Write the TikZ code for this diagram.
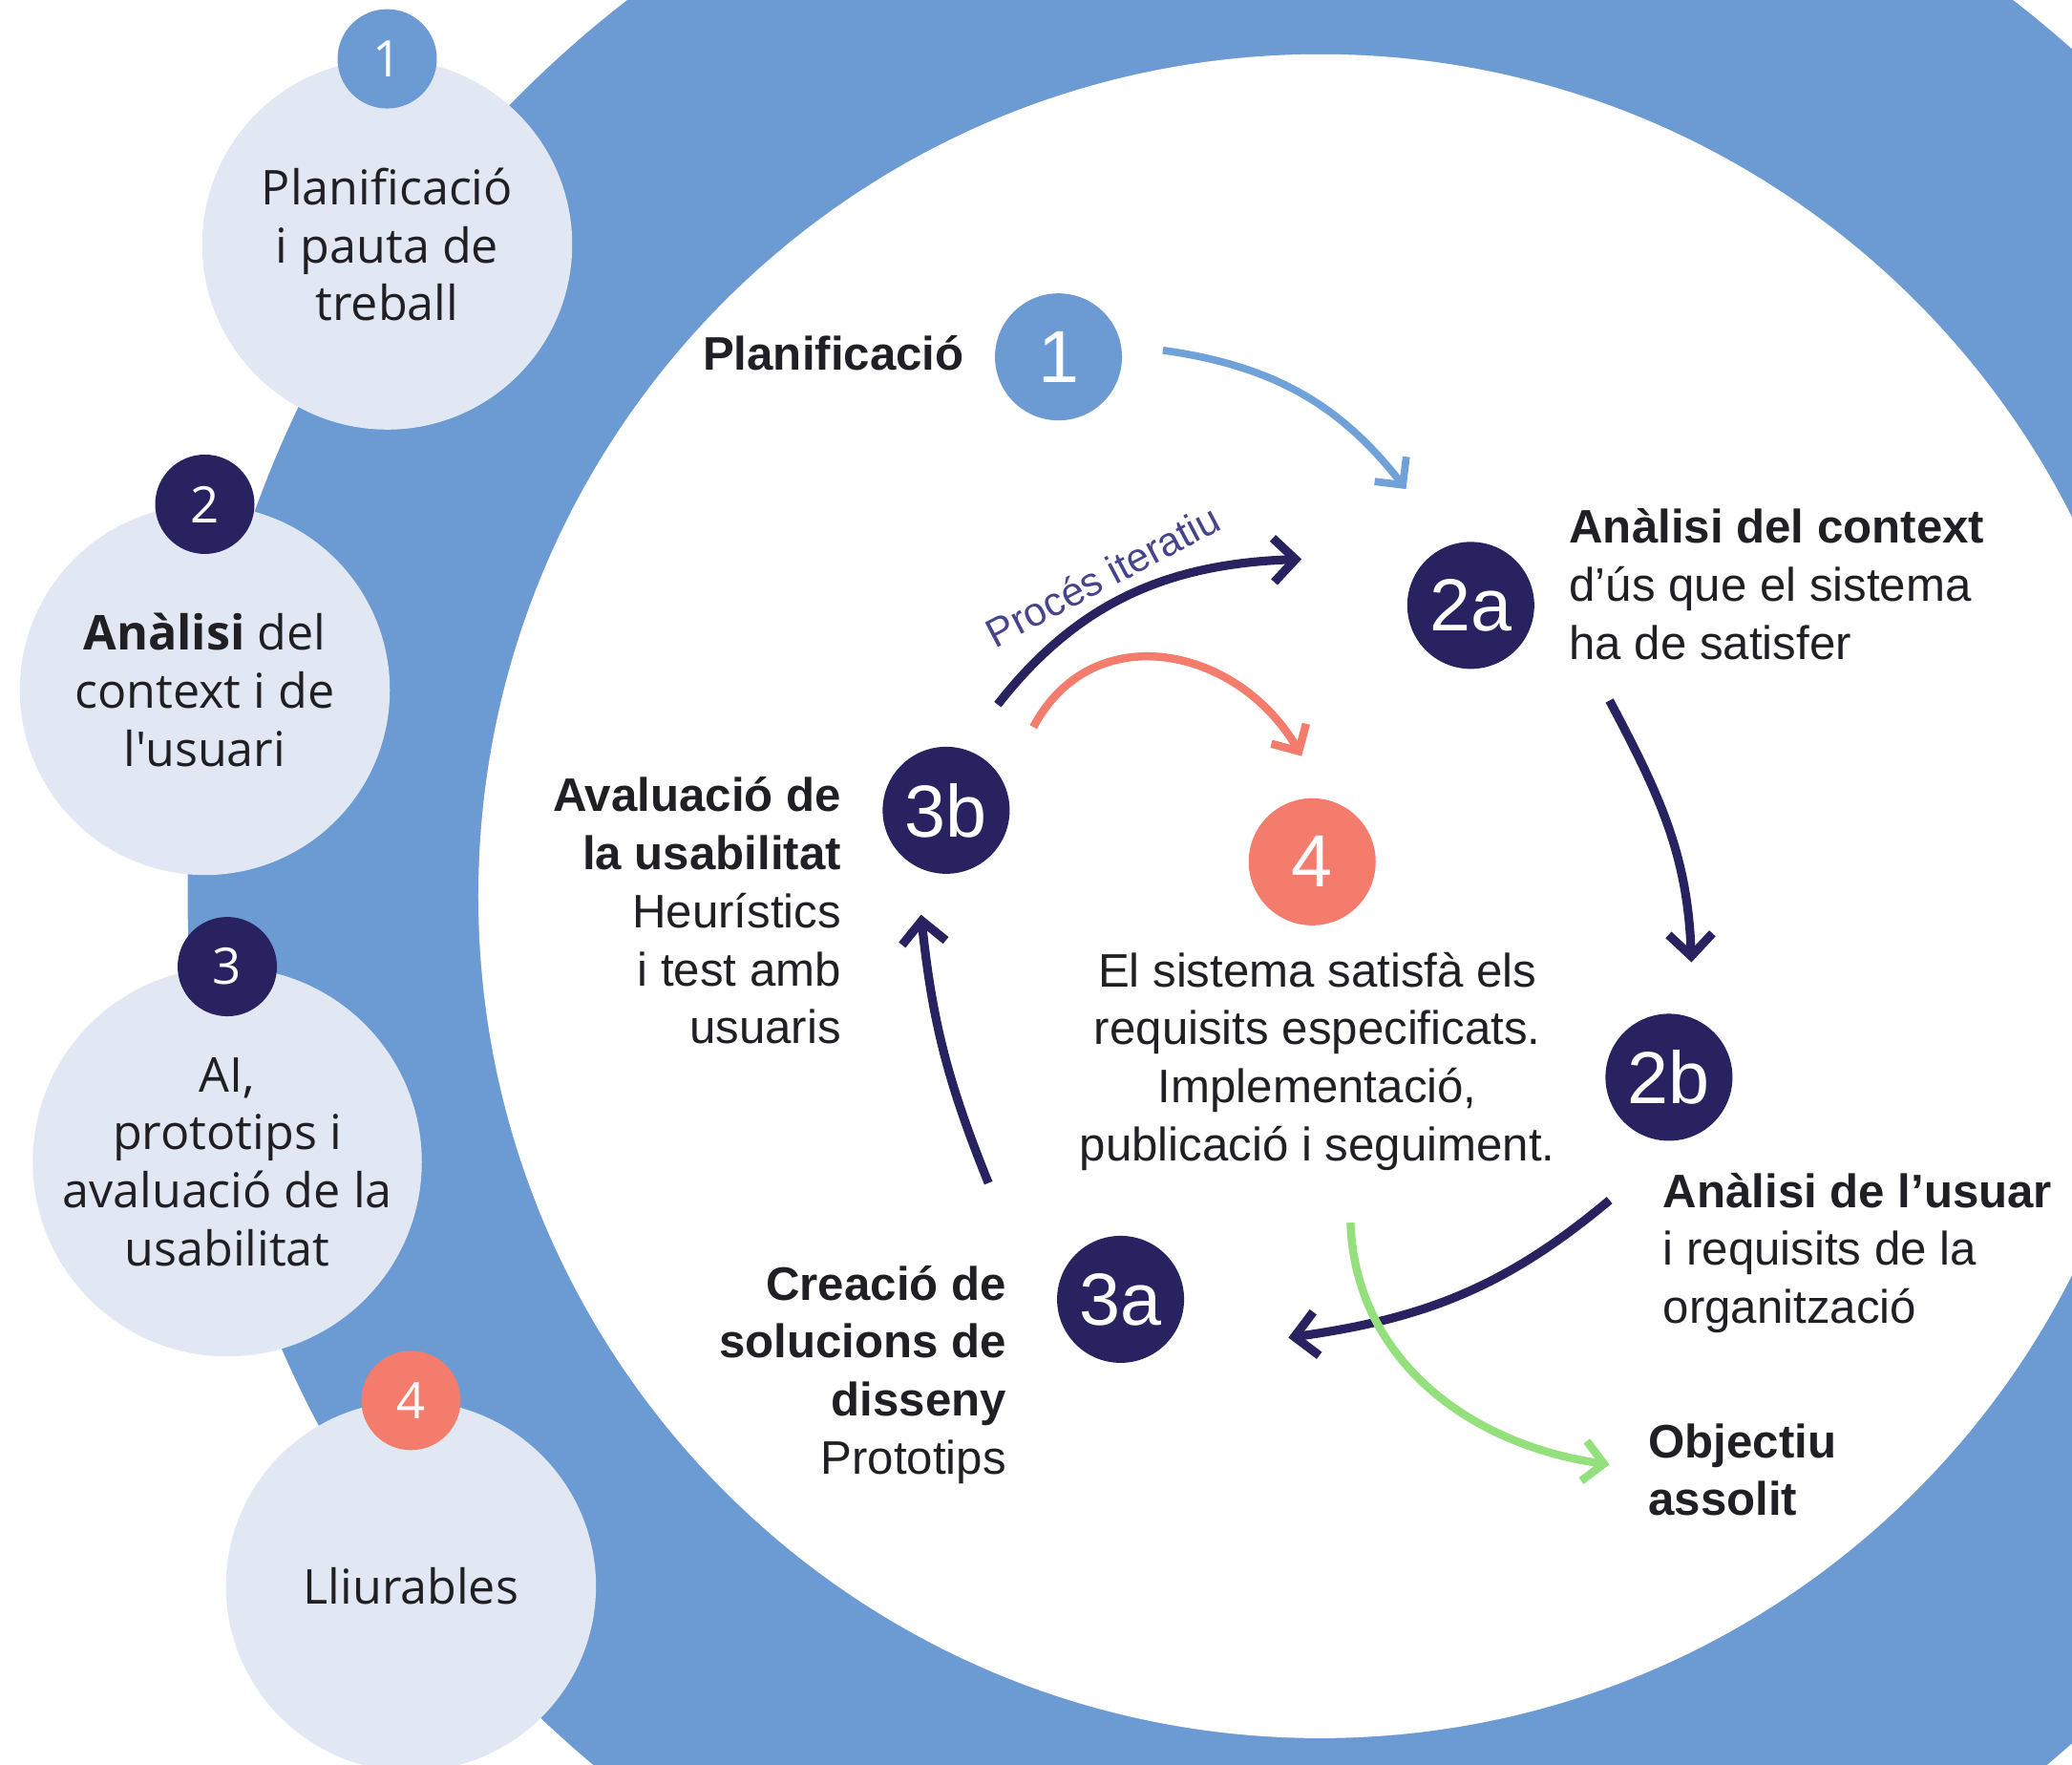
\documentclass[tikz,border=0pt]{standalone}
\usepackage{fontspec}
\setmainfont{Liberation Sans}
\newfontfamily\circfont[Ligatures=TeXOff]{Open Sans}
\usetikzlibrary{arrows.meta}
\definecolor{ringblue}{RGB}{108,155,211}
\definecolor{arrowblue}{RGB}{112,162,217}
\definecolor{lightcirc}{RGB}{225,232,244}
\definecolor{navy}{RGB}{40,35,96}
\definecolor{coral}{RGB}{244,124,108}
\definecolor{goalgreen}{RGB}{147,224,124}
\definecolor{textdark}{RGB}{32,32,36}
\definecolor{labelnavy}{RGB}{70,68,140}
\tikzset{
  phasecirc/.style={circle, fill=lightcirc, draw=none, minimum size=3.875cm, inner sep=0pt, align=center, text=textdark, font=\circfont\fontsize{14.3}{17.3}\selectfont},
  phasebadge/.style={circle, draw=none, minimum size=1.04cm, inner sep=0pt, text=white, font=\circfont\fontsize{15}{17}\selectfont},
  etapabadge/.style={circle, draw=none, minimum size=1.33cm, inner sep=0pt, text=white, font=\fontsize{22}{24}\selectfont},
  blocktext/.style={inner sep=0pt, text=textdark, font=\fontsize{14}{17.3}\selectfont},
  boldtext/.style={blocktext, font=\fontsize{14}{17.3}\selectfont\bfseries},
  looplabel/.style={inner sep=3pt, text=labelnavy, font=\fontsize{12}{14}\selectfont},
  navyarrow/.style={draw=navy, line width=2.6pt, -{Straight Barb[length=2.3mm,width=4.6mm]}},
  bluearrow/.style={draw=arrowblue, line width=2.2pt, -{Straight Barb[length=2.1mm,width=4.2mm]}},
  coralarrow/.style={draw=coral, line width=2.4pt, -{Straight Barb[length=2.1mm,width=4.2mm]}},
  greenarrow/.style={draw=goalgreen, line width=2.4pt, -{Straight Barb[length=2.1mm,width=4.2mm]}}
}
% phase on the left: name, x, y, colour, number, text
\newcommand{\fase}[6]{\node[phasecirc] (#1) at (#2,#3) {#6};
  \node[phasebadge, fill=#4] (#1n) at (#1.north) {#5};}
% stage badge in the cycle: name, x, y, colour, label
\newcommand{\etapa}[5]{\node[etapabadge, fill=#4] (#1) at (#2,#3) {#5};}

\begin{document}
\begin{tikzpicture}[x=0.01384cm, y=0.01384cm]
        \useasboundingbox (0,0) rectangle (1568,-1335);
        \clip (0,0) rectangle (1568,-1335);
        % ring
        \fill[ringblue] (999,-678) circle [radius=857];
        \fill[white] (999,-678) circle [radius=637];
        % phases
        \fase{f1}{293}{-185}{ringblue}{1}{Planificació\\i pauta de\\treball}
        \fase{f2}{155}{-522}{navy}{2}{\textbf{Anàlisi} del\\context i de\\l'usuari}
        \fase{f3}{172}{-879}{navy}{3}{AI,\\prototips i\\avaluació de la\\usabilitat}
        \fase{f4}{311}{-1200}{coral}{4}{Lliurables}
        % stages
        \etapa{e1}{801}{-270}{ringblue}{1}
        \etapa{e2a}{1113}{-458}{navy}{2a}
        \etapa{e2b}{1263}{-815}{navy}{2b}
        \etapa{e3a}{848}{-983}{navy}{3a}
        \etapa{e3b}{716}{-613}{navy}{3b}
        \etapa{e4}{993}{-652}{coral}{4}
        % labels for stages
        \node[boldtext, anchor=east] (t1) at (730,-267) {Planificació};
        \node[blocktext, anchor=west, align=left] (t2a) at (1187,-442) {\textbf{Anàlisi del context}\\d’ús que el sistema\\ha de satisfer};
        \node[blocktext, anchor=west, align=left] (t2b) at (1258,-948) {\textbf{Anàlisi de l’usuar}\\i requisits de la\\organització};
        \node[blocktext, anchor=east, align=right] (t3a) at (762,-1040) {\textbf{Creació de}\\\textbf{solucions de}\\\textbf{disseny}\\Prototips};
        \node[blocktext, anchor=east, align=right] (t3b) at (637,-689) {\textbf{Avaluació de}\\\textbf{la usabilitat}\\Heurístics\\i test amb\\usuaris};
        \node[blocktext, align=center] (t4) at (997,-803) {El sistema satisfà els\\requisits especificats.\\Implementació,\\publicació i seguiment.};
        \node[boldtext, anchor=west, align=left] (tobj) at (1247,-1112) {Objectiu\\assolit};
        % arrow ends
        \coordinate (a1s) at (880,-265);
        \coordinate (a1e) at (1064,-370);
        \coordinate (a2s) at (1218,-530);
        \coordinate (a2e) at (1280,-728);
        \coordinate (a3s) at (1218,-908);
        \coordinate (a3e) at (975,-1012);
        \coordinate (a4s) at (748,-895);
        \coordinate (a4e) at (697,-692);
        \coordinate (a5s) at (755,-533);
        \coordinate (a5e) at (985,-423);
        \coordinate (a6s) at (782,-550);
        \coordinate (a6e) at (985,-572);
        \coordinate (a7s) at (1022,-925);
        \coordinate (a7e) at (1218,-1108);
        % arrows
        \draw[bluearrow] (a1s) to[out=-8,in=128] (a1e);
        \draw[navyarrow] (a2s) to[out=-62,in=92] (a2e);
        \draw[navyarrow] (a3s) to[out=-140,in=8] (a3e);
        \draw[navyarrow] (a4s) to[out=112,in=-84] (a4e);
        \draw[navyarrow] (a5s) to[out=52,in=182] node[looplabel, sloped, above, pos=0.45] (loop) {Procés iteratiu} (a5e);
        \draw[coralarrow] (a6s) to[out=62,in=120,looseness=1.2] (a6e);
        \draw[greenarrow] (a7s) to[out=-88,in=172] (a7e);
\end{tikzpicture}
\end{document}
